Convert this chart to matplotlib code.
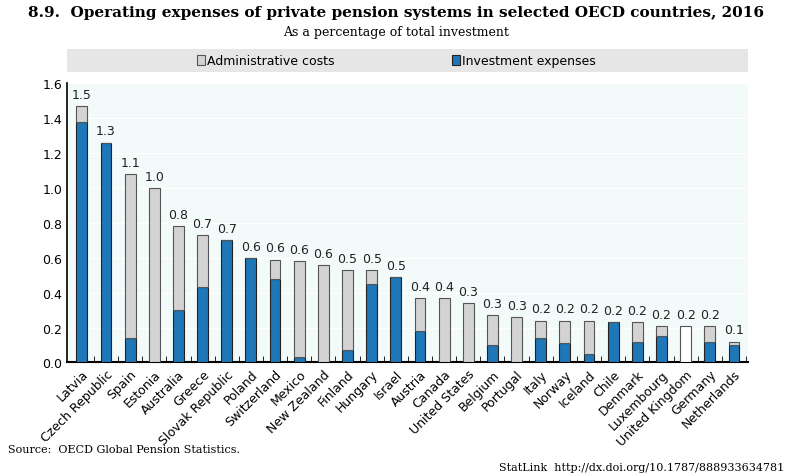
import matplotlib.pyplot as plt
import numpy as np

countries = ['Latvia', 'Czech Republic', 'Spain', 'Estonia', 'Australia', 'Greece', 'Slovak Republic',
             'Poland', 'Switzerland', 'Mexico', 'New Zealand', 'Finland', 'Hungary', 'Israel', 'Austria',
             'Canada', 'United States', 'Belgium', 'Portugal', 'Italy', 'Norway', 'Iceland', 'Chile',
             'Denmark', 'Luxembourg', 'United Kingdom', 'Germany', 'Netherlands']
total = [1.47, 1.26, 1.08, 1.00, 0.78, 0.73, 0.70, 0.60, 0.59, 0.58, 0.56, 0.53, 0.53, 0.49, 0.37,
         0.37, 0.34, 0.27, 0.26, 0.24, 0.24, 0.24, 0.23, 0.23, 0.21, 0.21, 0.21, 0.12]
invest = [1.38, 1.26, 0.14, 0.0, 0.30, 0.43, 0.70, 0.60, 0.48, 0.03, 0.0, 0.07, 0.45, 0.49, 0.18,
          0.0, 0.0, 0.10, 0.0, 0.14, 0.11, 0.05, 0.23, 0.12, 0.15, 0.0, 0.12, 0.10]
labels = ['1.5', '1.3', '1.1', '1.0', '0.8', '0.7', '0.7', '0.6', '0.6', '0.6', '0.6', '0.5', '0.5', '0.5',
          '0.4', '0.4', '0.3', '0.3', '0.3', '0.2', '0.2', '0.2', '0.2', '0.2', '0.2', '0.2', '0.2', '0.1']

total = np.array(total)
invest = np.array(invest)
admin = total - invest
x = np.arange(len(countries))

blue = '#1f77b8'
grey = '#d3d3d3'

fig = plt.figure(figsize=(7.92, 4.77), dpi=100)
ax = fig.add_axes([0.085, 0.238, 0.86, 0.585])
ax.set_facecolor('#f2fafa')

adm_colors = ['white' if c == 'United Kingdom' else grey for c in countries]
ax.bar(x, invest, width=0.45, color=blue, edgecolor='#222222', linewidth=0.8, zorder=3)
ax.bar(x, admin, bottom=invest, width=0.45, color=adm_colors, edgecolor='#555555', linewidth=0.8, zorder=3)
for i in x:
    ax.text(i, total[i] + 0.03, labels[i], ha='center', va='bottom', fontsize=9, color='#222222')

ax.set_xlim(-0.6, len(countries) - 0.4)
ax.set_ylim(0, 1.6)
ax.set_yticks(np.arange(0, 1.61, 0.2))
ax.set_yticklabels([f'{v:.1f}' for v in np.arange(0, 1.61, 0.2)], fontsize=9)
ax.yaxis.grid(color='white', linewidth=1, zorder=0)
ax.set_xticks(x)
ax.set_xticklabels(countries, rotation=45, ha='right', rotation_mode='anchor', fontsize=9)
ax.set_xticks(x + 0.5, minor=True)
ax.tick_params(axis='x', which='major', length=0)
ax.tick_params(axis='x', which='minor', length=4, direction='in')
ax.tick_params(axis='y', length=0)
for s in ['top', 'right']:
    ax.spines[s].set_visible(False)
ax.spines['bottom'].set_linewidth(1.5)
ax.spines['left'].set_linewidth(1.2)

# legend band
lax = fig.add_axes([0.085, 0.848, 0.86, 0.048])
lax.set_facecolor('#e6e6e6')
lax.set_xticks([]); lax.set_yticks([])
for s in lax.spines.values():
    s.set_visible(False)
lax.set_xlim(0, 1); lax.set_ylim(0, 1)
lax.add_patch(plt.Rectangle((0.19, 0.3), 0.012, 0.4, facecolor=grey, edgecolor='#555555', lw=0.8))
lax.text(0.205, 0.5, 'Administrative costs', va='center', fontsize=9)
lax.add_patch(plt.Rectangle((0.565, 0.3), 0.012, 0.4, facecolor=blue, edgecolor='#222222', lw=0.8))
lax.text(0.58, 0.5, 'Investment expenses', va='center', fontsize=9)

fig.text(0.5, 0.965, '8.9.  Operating expenses of private pension systems in selected OECD countries, 2016',
         ha='center', fontsize=11, fontweight='bold', family='DejaVu Serif')
fig.text(0.5, 0.925, 'As a percentage of total investment', ha='center', fontsize=9, family='DejaVu Serif')
fig.text(0.01, 0.05, 'Source:  OECD Global Pension Statistics.', fontsize=8, family='DejaVu Serif')
fig.text(0.99, 0.012, 'StatLink  http://dx.doi.org/10.1787/888933634781', ha='right', fontsize=8, family='DejaVu Serif')

fig.savefig('out.png', dpi=100)
